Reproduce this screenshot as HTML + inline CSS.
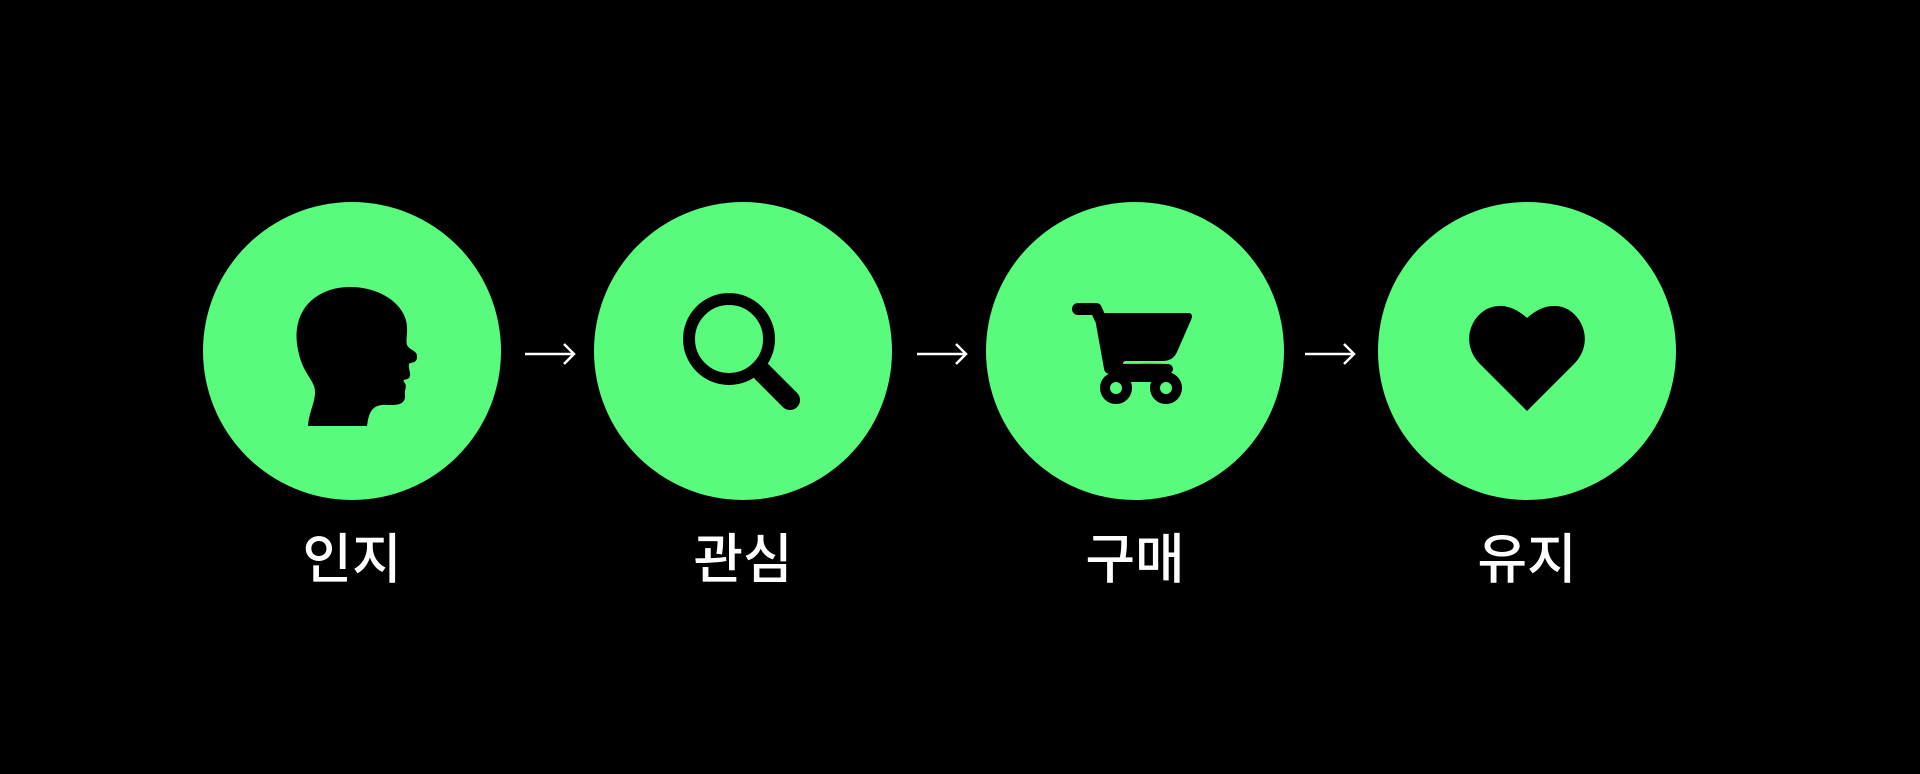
<!DOCTYPE html>
<html><head><meta charset="utf-8"><style>
html,body{margin:0;padding:0;background:#000;}
body{width:1920px;height:774px;overflow:hidden;position:relative;}
svg{position:absolute;left:0;top:0;}
.t{font-family:"Liberation Sans","Noto Sans CJK KR",sans-serif;font-size:54px;font-weight:500;fill:#fff;text-anchor:middle;}
</style></head><body>
<svg width="1920" height="774" viewBox="0 0 1920 774">
<g fill="#58fb7b">
<circle cx="352" cy="351" r="149"/>
<circle cx="743" cy="351" r="149"/>
<circle cx="1135" cy="351" r="149"/>
<circle cx="1527" cy="351" r="149"/>
</g>
<g stroke="#fff" stroke-width="2.5" fill="none">
<path d="M525 354H574M564 344L574 354L564 364"/>
<path d="M917 354H966M956 344L966 354L956 364"/>
<path d="M1305 354H1354M1344 344L1354 354L1344 364"/>
</g>
<!-- head -->
<path fill="#000" d="M308 426 C309 410 318 398 314 386 C310 376 302 370 298 350 C293 326 300 300 330 290 C355 282 392 290 404 315 C410 328 405 338 407 345 C410 351 418 350 417 358 C416 364 410 362 409 364 C408 370 412 374 409 378 C407 380 402 379 404 382 C408 386 404 390 405 395 C406 406 394 405 387 405 C372 404 369 412 367 426 Z"/>
<!-- magnifier -->
<circle cx="729" cy="339" r="40" fill="none" stroke="#000" stroke-width="12"/>
<path d="M762 372 L790 400" stroke="#000" stroke-width="20" stroke-linecap="round"/>
<!-- cart -->
<g fill="none" stroke="#000" stroke-linecap="round" stroke-linejoin="round">
<path d="M1078 309H1096L1100 318" stroke-width="12"/>
<path d="M1101 318L1110 368" stroke-width="12"/>
<path d="M1110 368C1118 370 1150 368 1168 369" stroke-width="10"/>
<circle cx="1116" cy="388" r="11" stroke-width="10"/>
<circle cx="1166" cy="388" r="11" stroke-width="10"/>
</g>
<path fill="#000" d="M1100 313H1188C1192 313 1193 316 1191 320L1177 352C1174 358 1170 361 1162 361H1126C1122 361 1122 366 1126 366H1110L1100 313Z"/>
<rect x="1115" y="370" width="52" height="12" fill="#000"/>
<!-- heart -->
<path fill="#000" d="M1527 411 L1480 364 C1463 347 1467 322 1485 310 C1499 302 1514 306 1527 318 C1540 306 1556 302 1569 310 C1587 322 1591 347 1574 364 Z"/>
<text class="t" x="352" y="578">인지</text>
<text class="t" x="743" y="578">관심</text>
<text class="t" x="1135" y="578">구매</text>
<text class="t" x="1527" y="578">유지</text>
</svg>
</body></html>
